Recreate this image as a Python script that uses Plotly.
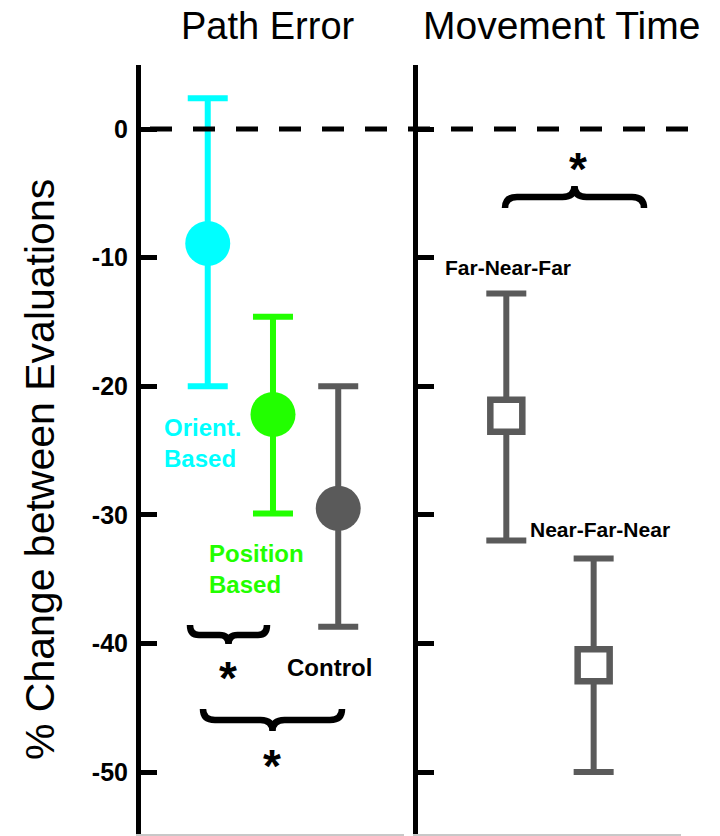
import plotly.graph_objects as go

# ---------------- data ----------------
pe_categories = ["Orient. Based", "Position Based", "Control"]
pe_mean = [-8.9, -22.2, -29.5]
pe_upper = [2.4, -14.6, -20.0]
pe_lower = [-20.0, -29.9, -38.7]

mt_categories = ["Far-Near-Far", "Near-Far-Near"]
mt_mean = [-22.3, -41.7]
mt_upper = [-12.8, -33.4]
mt_lower = [-32.0, -50.0]

y_ticks = [0, -10, -20, -30, -40, -50]

# ---------------- styling ----------------
W, H = 720, 836
pe_colors = ["#00ffff", "#22ff00", "#5a5a5a"]
mt_color = "#5a5a5a"
FONT = "Liberation Sans"


def P(px, py):
    return px / W, 1 - py / H


fig = go.Figure()

# Path error: error bars first, then markers on top
for cat, m, u, l, c in zip(pe_categories, pe_mean, pe_upper, pe_lower, pe_colors):
    fig.add_trace(go.Scatter(
        x=[cat], y=[m], mode="markers", xaxis="x", yaxis="y",
        marker=dict(size=2, color="rgba(0,0,0,0)"),
        error_y=dict(type="data", symmetric=False, array=[u - m], arrayminus=[m - l],
                     color=c, thickness=6, width=20),
        showlegend=False, hoverinfo="skip"))
    fig.add_trace(go.Scatter(
        x=[cat], y=[m], mode="markers", xaxis="x", yaxis="y",
        marker=dict(size=45, color=c, line=dict(width=0)),
        showlegend=False, name=cat))

for cat, m, u, l in zip(mt_categories, mt_mean, mt_upper, mt_lower):
    fig.add_trace(go.Scatter(
        x=[cat], y=[m], mode="markers", xaxis="x2", yaxis="y2",
        marker=dict(size=2, color="rgba(0,0,0,0)"),
        error_y=dict(type="data", symmetric=False, array=[u - m], arrayminus=[m - l],
                     color=mt_color, thickness=6, width=20),
        showlegend=False, hoverinfo="skip"))
    fig.add_trace(go.Scatter(
        x=[cat], y=[m], mode="markers", xaxis="x2", yaxis="y2",
        marker=dict(symbol="square", size=32, color="white",
                    line=dict(width=6.5, color=mt_color)),
        showlegend=False, name=cat))

# axis geometry
y_top_px, y_bot_px = 65, 834
px_per_unit = (772 - 129) / 50.0
y_range = [-(y_bot_px - 129) / px_per_unit, (129 - y_top_px) / px_per_unit]
y_dom = [1 - y_bot_px / H, 1 - y_top_px / H]

yax_common = dict(range=y_range, domain=y_dom, showline=True, linecolor="black",
                  linewidth=5, ticks="inside", ticklen=16, tickwidth=5,
                  tickcolor="black", tickvals=y_ticks, showgrid=False,
                  zeroline=False, fixedrange=True)
xax_common = dict(showline=True, linecolor="#c8c8c8", linewidth=1.5,
                  showticklabels=False, ticks="", showgrid=False,
                  zeroline=False, fixedrange=True, type="category")

fig.update_layout(
    width=W, height=H, margin=dict(l=0, r=0, t=0, b=0),
    paper_bgcolor="white", plot_bgcolor="white",
    xaxis=dict(xax_common, domain=[141 / W, 404 / W], range=[-1.023, 3.008],
               anchor="y"),
    xaxis2=dict(xax_common, domain=[418 / W, 681 / W], range=[-1.011, 2.0],
                anchor="y2"),
    yaxis=dict(yax_common, anchor="x", showticklabels=True,
               ticktext=[str(v) for v in y_ticks],
               ticklabelstandoff=3,
               tickfont=dict(family=FONT, size=25, color="black", weight="bold")),
    yaxis2=dict(yax_common, anchor="x2", showticklabels=False),
)

shapes = []
# dashed zero line
shapes.append(dict(type="line", xref="paper", yref="y", x0=150 / W, x1=690 / W,
                   y0=0, y1=0, line=dict(color="black", width=5, dash="22px,21px")))


def brace(x0, x1, ye, yb, yt, r=10):
    xc = (x0 + x1) / 2

    def p(x, y):
        a, b = P(x, y)
        return f"{a:.5f},{b:.5f}"
    path = (f"M{p(x0, ye)} Q{p(x0, yb)} {p(x0 + r, yb)} L{p(xc - r, yb)} "
            f"Q{p(xc, yb)} {p(xc, yt)} Q{p(xc, yb)} {p(xc + r, yb)} "
            f"L{p(x1 - r, yb)} Q{p(x1, yb)} {p(x1, ye)}")
    return dict(type="path", xref="paper", yref="paper", path=path,
                line=dict(color="black", width=6.5))


shapes.append(brace(190, 267, 625, 635, 644, r=9))
shapes.append(brace(203, 342, 709, 720, 731, r=12))
shapes.append(brace(505, 644, 208, 197, 186, r=12))
fig.update_layout(shapes=shapes)

ann = []


def text(px, py, s, size, color="black", weight="normal", xanchor="center",
         align="center", angle=0):
    x, y = P(px, py)
    ann.append(dict(x=x, y=y, xref="paper", yref="paper", text=s, showarrow=False,
                    xanchor=xanchor, yanchor="middle", align=align, textangle=angle,
                    font=dict(family=FONT, size=size, color=color, weight=weight)))


text(268, 26, "Path Error", 38)
text(561, 26, "Movement Time", 39)
text(40, 470, "% Change between Evaluations", 41, angle=-90)

text(162, 443, "Orient.<br>Based", 24, color="#00ffff", weight="bold",
     xanchor="left", align="left")
text(207, 569, "Position<br>Based", 24, color="#22ff00", weight="bold",
     xanchor="left", align="left")
text(329, 667, "Control", 24, weight="bold")
text(508, 267, "Far-Near-Far", 21, weight="bold")
text(600, 529, "Near-Far-Near", 21, weight="bold")

# significance asterisks
text(228, 678, "*", 46, weight="bold")
text(272, 766, "*", 46, weight="bold")
text(578, 169, "*", 46, weight="bold")

fig.update_layout(annotations=ann)

fig.write_html("out.html")
